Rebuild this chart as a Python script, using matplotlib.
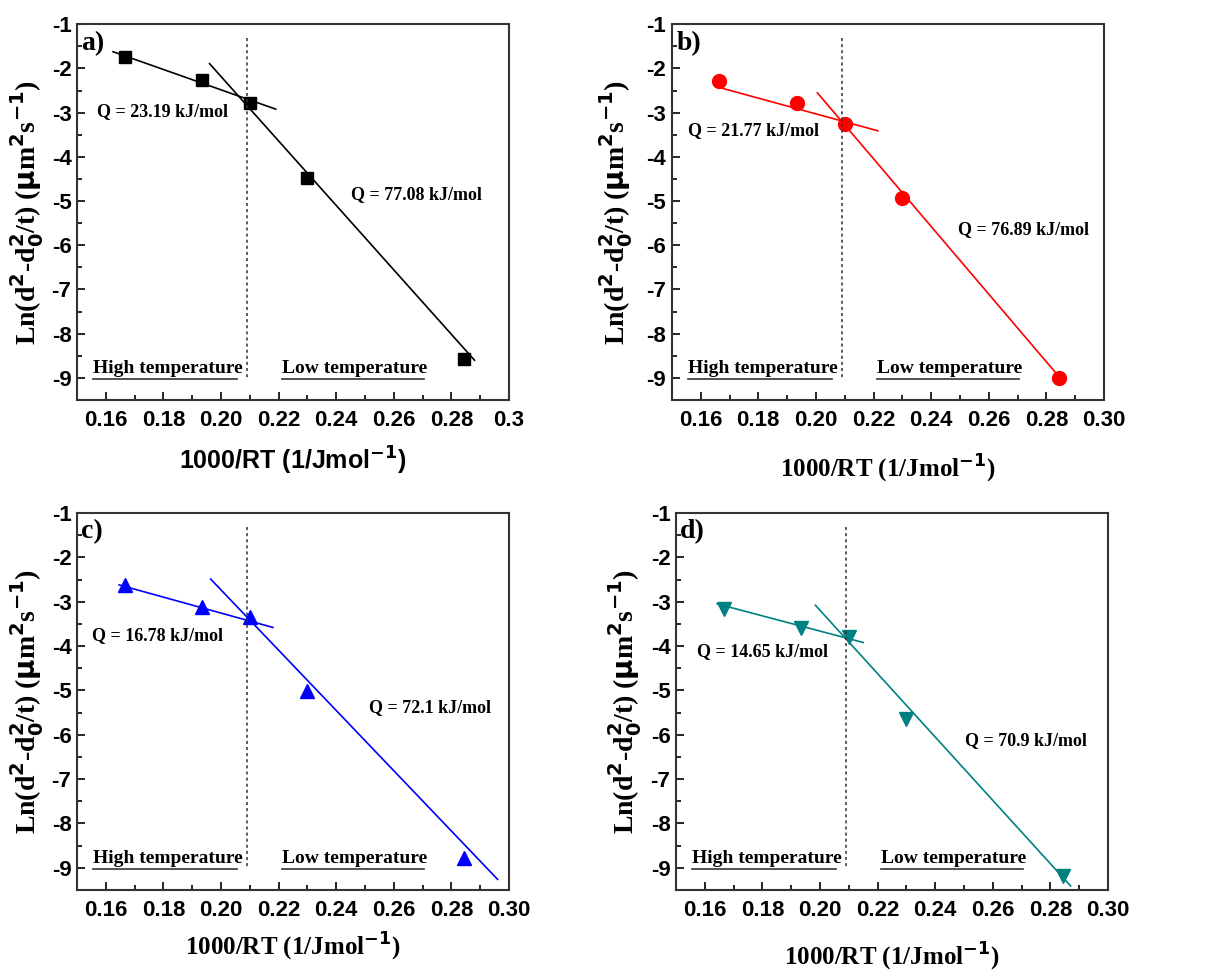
import matplotlib.pyplot as plt
from matplotlib.ticker import MultipleLocator

plt.rcParams['axes.unicode_minus'] = False

# 1000/RT values shared by all samples
x_pts = [0.1665, 0.1935, 0.210, 0.230, 0.2845]

# Ln(d^2-d0^2/t) per panel
y_a = [-1.75, -2.25, -2.78, -4.48, -8.57]
y_b = [-2.29, -2.79, -3.25, -4.94, -9.00]
y_c = [-2.62, -3.11, -3.35, -5.02, -8.77]
y_d = [-3.17, -3.60, -3.80, -5.65, -9.19]

# fitted line end points (x, y), high- and low-temperature regime
hi_a = ([0.1625, 0.219], [-1.62, -2.92])
lo_a = ([0.196, 0.288], [-1.89, -8.60])
hi_b = ([0.1665, 0.2215], [-2.43, -3.41])
lo_b = ([0.2005, 0.2845], [-2.55, -8.98])
hi_c = ([0.1646, 0.218], [-2.62, -3.58])
lo_c = ([0.1964, 0.296], [-2.49, -9.26])
hi_d = ([0.1643, 0.215], [-3.05, -3.92])
lo_d = ([0.1984, 0.287], [-3.08, -9.41])

q_hi = ["Q = 23.19 kJ/mol", "Q = 21.77 kJ/mol", "Q = 16.78 kJ/mol", "Q = 14.65 kJ/mol"]
q_lo = ["Q = 77.08 kJ/mol", "Q = 76.89 kJ/mol", "Q = 72.1 kJ/mol", "Q = 70.9 kJ/mol"]
q_hi_pos = [(0.157, -2.98), (0.1557, -3.41), (0.1553, -3.77), (0.1572, -4.12)]
q_lo_pos = [(0.245, -4.86), (0.2492, -5.64), (0.2513, -5.39), (0.2503, -6.12)]

panels = [
    ("a)", y_a, hi_a, lo_a, "black", "s", 9),
    ("b)", y_b, hi_b, lo_b, "#ff0000", "o", 10),
    ("c)", y_c, hi_c, lo_c, "#0000ff", "^", 10),
    ("d)", y_d, hi_d, lo_d, "#008080", "v", 10),
]

xticks = [0.16, 0.18, 0.20, 0.22, 0.24, 0.26, 0.28, 0.30]
xlabels_a = ["0.16", "0.18", "0.20", "0.22", "0.24", "0.26", "0.28", "0.3"]
xlabels = ["0.16", "0.18", "0.20", "0.22", "0.24", "0.26", "0.28", "0.30"]

serif = "Liberation Serif"
sans = "Liberation Sans"

fig = plt.figure(figsize=(12.15, 9.72), dpi=100)
rects = [
    [0.0634, 0.5885, 0.3556, 0.3865],
    [0.553, 0.5885, 0.3556, 0.3865],
    [0.0634, 0.0844, 0.3556, 0.3878],
    [0.5564, 0.0844, 0.3556, 0.3878],
]
ylab_x = [-0.072, -0.085, -0.072, -0.074]
xlab_y = [-0.12, -0.14, -0.11, -0.135]

for i, (tag, ys, hi, lo, col, mk, ms) in enumerate(panels):
    ax = fig.add_axes(rects[i])
    ax.plot(hi[0], hi[1], color=col, lw=1.2)
    ax.plot(lo[0], lo[1], color=col, lw=1.2)
    ax.plot(x_pts, ys, ls="none", marker=mk, ms=ms, color=col)
    ax.plot([0.209, 0.209], [-1.32, -9.0], color="#333333", lw=1.1, ls=(0, (2, 2)))

    ax.set_xlim(0.15, 0.30)
    ax.set_ylim(-9.5, -1)
    ax.set_xticks(xticks)
    ax.set_xticklabels(xlabels_a if i == 0 else xlabels)
    ax.xaxis.set_minor_locator(MultipleLocator(0.01))
    ax.yaxis.set_major_locator(MultipleLocator(1))
    ax.yaxis.set_minor_locator(MultipleLocator(0.5))
    ax.tick_params(which="both", direction="in", top=False, right=False, width=1.2)
    ax.tick_params(which="major", length=6, labelsize=16)
    ax.tick_params(axis="x", which="major", pad=7)
    ax.tick_params(axis="y", which="major", pad=4)
    ax.tick_params(which="minor", length=3.5)
    for lab in ax.get_xticklabels() + ax.get_yticklabels():
        lab.set_fontfamily(sans)
        lab.set_fontweight("bold")
    for sp in ax.spines.values():
        sp.set_linewidth(1.5)
        sp.set_color("#333333")

    ax.set_ylabel(r"Ln(d$^\mathbf{2}$-d$_\mathbf{0}^\mathbf{2}$/t) ($\mathbf{\mu}$m$^\mathbf{2}$s$^\mathbf{-1}$)",
                  fontfamily=serif, fontweight="bold", fontsize=20)
    ax.yaxis.set_label_coords(ylab_x[i], 0.5)
    fam = sans if i == 0 else serif
    ax.set_xlabel(r"1000/RT (1/Jmol$^\mathbf{-1}$)", fontfamily=fam, fontweight="bold", fontsize=18)
    ax.xaxis.set_label_coords(0.5, xlab_y[i])

    ax.text(0.1515, -1.43, tag, fontfamily=serif, fontweight="bold", fontsize=20, va="center")
    ax.text(q_hi_pos[i][0], q_hi_pos[i][1], q_hi[i], fontfamily=serif, fontweight="bold",
            fontsize=13, va="center")
    ax.text(q_lo_pos[i][0], q_lo_pos[i][1], q_lo[i], fontfamily=serif, fontweight="bold",
            fontsize=13, va="center")

    # regime labels with underline
    ax.text(0.1555, -8.78, "High temperature", fontfamily=serif, fontweight="bold",
            fontsize=14, va="center")
    ax.plot([0.1555, 0.2055], [-9.02, -9.02], color="#333333", lw=1.2)
    ax.text(0.2213, -8.78, "Low temperature", fontfamily=serif, fontweight="bold",
            fontsize=14, va="center")
    ax.plot([0.2213, 0.2705], [-9.02, -9.02], color="#333333", lw=1.2)

fig.savefig("out.png", dpi=100)
